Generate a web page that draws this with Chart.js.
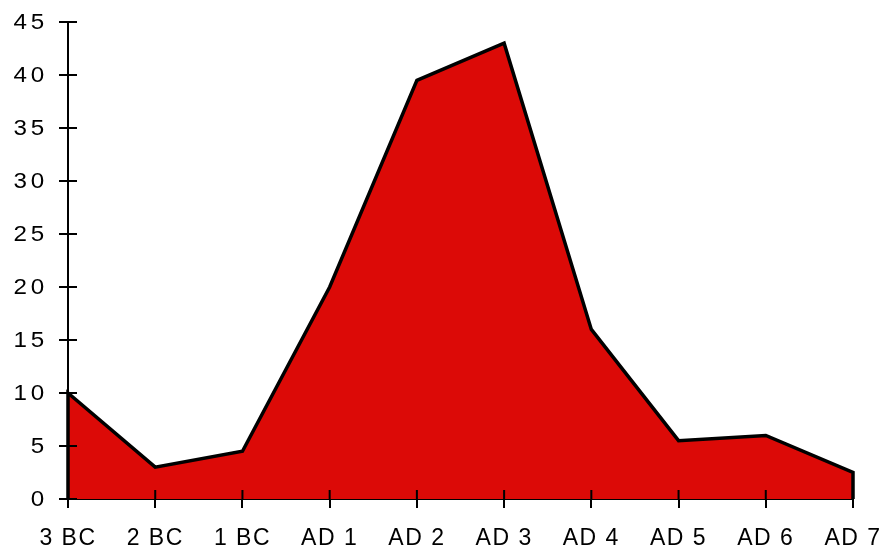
<!DOCTYPE html>
<html>
<head>
<meta charset="utf-8">
<script src="https://cdn.jsdelivr.net/npm/chart.js@4/dist/chart.umd.min.js"></script>
<style>
html,body{margin:0;padding:0;background:#fff;}
#wrap{width:885px;height:554px;}
</style>
</head>
<body>
<div id="wrap"><canvas id="c" width="885" height="554"></canvas></div>
<script>
const categories = ['3 BC','2 BC','1 BC','AD 1','AD 2','AD 3','AD 4','AD 5','AD 6','AD 7'];
const values = [10, 3, 4.5, 20, 39.5, 43, 16, 5.5, 6, 2.5];
const yTicks = [0,5,10,15,20,25,30,35,40,45];

// Closed outline: baseline at first category, the series, back to baseline at last category
const outline = [{x: categories[0], y: 0}]
  .concat(categories.map((c, i) => ({x: c, y: values[i]})))
  .concat([{x: categories[categories.length - 1], y: 0}]);

const FAMILY = '"Liberation Sans", Arial, sans-serif';

// y labels in the reference are drawn slightly wide and letter-spaced
class WideLinear extends Chart.LinearScale {
  drawLabels(area){
    const ctx = this.ctx;
    const opts = this.options.ticks;
    const anchorX = this.right - this.options.grid.tickLength - opts.padding;
    ctx.save();
    ctx.fillStyle = opts.color;
    ctx.font = '22px ' + FAMILY;
    ctx.textAlign = 'right';
    ctx.textBaseline = 'middle';
    ctx.letterSpacing = '3.5px';
    this.ticks.forEach((t, i) => {
      const y = this.getPixelForTick(i);
      ctx.save();
      ctx.translate(anchorX, y + 0.5);
      ctx.scale(1.1, 1);
      ctx.fillText(String(t.label), 0, 0);
      ctx.restore();
    });
    ctx.restore();
  }
}
WideLinear.id = 'wideLinear';
WideLinear.defaults = Chart.LinearScale.defaults;
class SpacedCategory extends Chart.CategoryScale {
  drawLabels(area){ const p = this.ctx.letterSpacing; this.ctx.letterSpacing = '1.5px'; super.drawLabels(area); this.ctx.letterSpacing = p; }
}
SpacedCategory.id = 'spacedCategory';
SpacedCategory.defaults = Chart.CategoryScale.defaults;
Chart.register(WideLinear, SpacedCategory);

const innerTicks = {
  id: 'innerTicks',
  afterDatasetsDraw(chart){
    const ctx = chart.ctx;
    const xs = chart.scales.x, ys = chart.scales.y;
    ctx.save();
    ctx.strokeStyle = '#000';
    ctx.lineWidth = 2;
    ctx.beginPath();
    xs.ticks.forEach((t, i) => {
      const px = xs.getPixelForTick(i);
      ctx.moveTo(px, ys.bottom);
      ctx.lineTo(px, ys.bottom - 9);
    });
    ys.ticks.forEach((t, i) => {
      const py = ys.getPixelForTick(i);
      ctx.moveTo(xs.left, py);
      ctx.lineTo(xs.left + 9, py);
    });
    ctx.stroke();
    ctx.restore();
  }
};

new Chart(document.getElementById('c'), {
  type: 'line',
  data: {
    labels: categories,
    datasets: [{
      data: outline,
      fill: 'origin',
      backgroundColor: '#dc0a07',
      borderColor: '#000',
      borderWidth: 3.5,
      borderJoinStyle: 'miter',
      pointRadius: 0,
      tension: 0,
      clip: 6
    }]
  },
  options: {
    responsive: false,
    animation: false,
    devicePixelRatio: 1,
    layout: { padding: { top: 22, right: 32, left: 0, bottom: 0 } },
    plugins: { legend: { display: false }, tooltip: { enabled: false } },
    scales: {
      x: {
        type: 'spacedCategory',
        offset: false,
        afterFit(s){ s.height = 55; s.paddingLeft = 0; s.paddingRight = 0; },
        grid: { drawOnChartArea: false, drawTicks: true, tickLength: 9, color: '#000', lineWidth: 2 },
        border: { display: true, color: '#000', width: 2 },
        ticks: { color: '#000', padding: 17, maxRotation: 0, autoSkip: false, font: { family: FAMILY, size: 23 } }
      },
      y: {
        type: 'wideLinear',
        min: 0, max: 45,
        afterFit(s){ s.width = 68; s.paddingTop = 0; s.paddingBottom = 0; },
        afterBuildTicks(s){ s.ticks = yTicks.map(v => ({value: v})); },
        grid: { drawOnChartArea: false, drawTicks: true, tickLength: 9, color: '#000', lineWidth: 2 },
        border: { display: true, color: '#000', width: 2 },
        ticks: { color: '#000', padding: 11, font: { family: FAMILY, size: 22 } }
      }
    }
  },
  plugins: [innerTicks]
});
</script>
</body>
</html>
